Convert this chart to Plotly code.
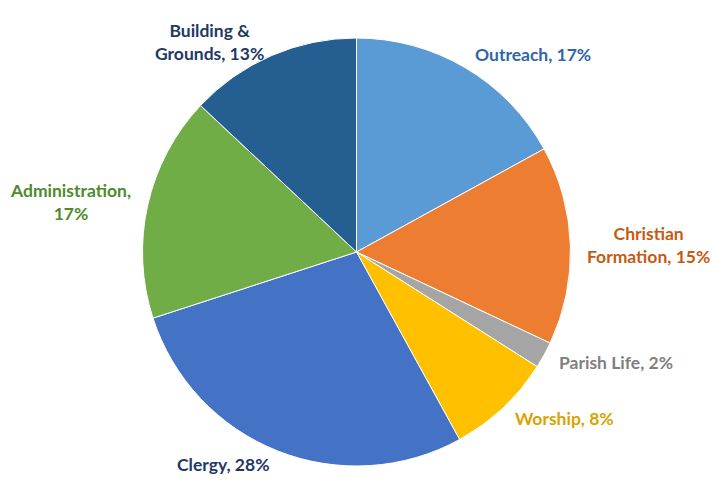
import math
import plotly.graph_objects as go

categories = ["Outreach", "Christian Formation", "Parish Life", "Worship",
              "Clergy", "Administration", "Building & Grounds"]
values = [17, 15, 2, 8, 28, 17, 13]
label_text = ["Outreach, 17%", "Christian<br>Formation, 15%", "Parish Life, 2%",
              "Worship, 8%", "Clergy, 28%", "Administration,<br>17%",
              "Building &<br>Grounds, 13%"]
slice_colors = ["#5B9BD5", "#ED7D31", "#A5A5A5", "#FFC000",
                "#4472C4", "#70AD47", "#255E91"]
text_colors = ["#2E66A8", "#C55A11", "#7F7F7F", "#D9A300",
               "#1F3864", "#4E8A2A", "#1F3864"]

W, H = 713, 484
M = dict(l=0, r=0, t=38, b=18)
pw, ph = W - M["l"] - M["r"], H - M["t"] - M["b"]
R = min(pw, ph) / 2  # pie radius in px (automargin off, no outside text)
cx, cy = pw / 2, ph / 2  # centre in plot-area px (from bottom-left)
LABEL_FACTOR = 1.07

fig = go.Figure(go.Pie(
    labels=categories, values=values,
    textinfo="none",
    marker=dict(colors=slice_colors, line=dict(color="white", width=1)),
    sort=False, direction="clockwise", rotation=0,
    showlegend=False, automargin=False, hole=0,
    domain=dict(x=[0, 1], y=[0, 1]),
))

total = sum(values)
cum = 0
for v, txt, col in zip(values, label_text, text_colors):
    mid = (cum + v / 2) / total * 2 * math.pi
    cum += v
    s, c = math.sin(mid), math.cos(mid)
    px = cx + LABEL_FACTOR * R * s
    py = cy + LABEL_FACTOR * R * c
    xanchor = "left" if s > 0.1 else ("right" if s < -0.1 else "center")
    fig.add_annotation(
        x=px / pw, y=py / ph, xref="paper", yref="paper",
        text=txt, showarrow=False, xanchor=xanchor, yanchor="middle",
        align="center",
        font=dict(family="Lato", size=17.5, color=col, weight="bold"),
    )

fig.update_layout(
    width=W, height=H, margin=M,
    paper_bgcolor="white", plot_bgcolor="white",
)
fig.write_html(
    "out.html",
    config={"displayModeBar": False},
    post_script="document.body.style.margin='0';document.body.style.overflow='hidden';",
)
